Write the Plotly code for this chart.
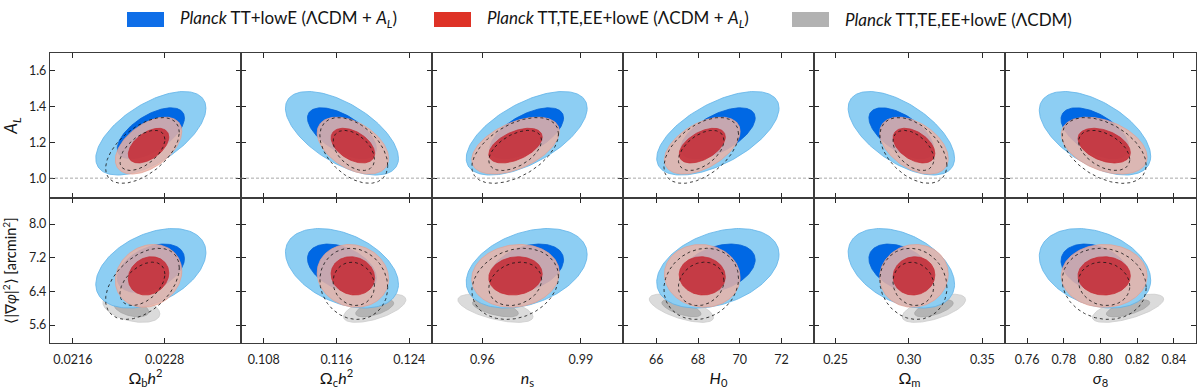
import numpy as np
import plotly.graph_objects as go
from plotly.subplots import make_subplots

# ---------------- data ----------------
param_titles = ["Ω<sub>b</sub><i>h</i><sup>2</sup>", "Ω<sub>c</sub><i>h</i><sup>2</sup>",
                "<i>n</i><sub>s</sub>", "<i>H</i><sub>0</sub>", "Ω<sub>m</sub>", "<i>σ</i><sub>8</sub>"]
x_ranges = [[0.02130, 0.02380], [0.1055, 0.1265], [0.9447, 1.0028],
            [64.4, 73.56], [0.2352, 0.3655], [0.748, 0.852]]
x_tickvals = [[0.0216, 0.0228], [0.108, 0.116, 0.124], [0.96, 0.99],
              [66, 68, 70, 72], [0.25, 0.30, 0.35], [0.76, 0.78, 0.80, 0.82, 0.84]]
x_ticktext = [["0.0216", "0.0228"], ["0.108", "0.116", "0.124"], ["0.96", "0.99"],
              ["66", "68", "70", "72"], ["0.25", "0.30", "0.35"],
              ["0.76", "0.78", "0.80", "0.82", "0.84"]]
y_titles = ["<i>A</i><sub><i>L</i></sub>", "⟨|∇<i>φ</i>|<sup>2</sup>⟩ [arcmin<sup>2</sup>]"]
y_ranges = [[0.889, 1.70], [5.175, 8.62]]
y_tickvals = [[1.0, 1.2, 1.4, 1.6], [5.6, 6.4, 7.2, 8.0]]
y_ticktext = [["1.0", "1.2", "1.4", "1.6"], ["5.6", "6.4", "7.2", "8.0"]]

legend_labels = ["<i>Planck</i> TT+lowE (ΛCDM + <i>A</i><sub><i>L</i></sub>)",
                 "<i>Planck</i> TT,TE,EE+lowE (ΛCDM + <i>A</i><sub><i>L</i></sub>)",
                 "<i>Planck</i> TT,TE,EE+lowE (ΛCDM)"]

# TT+lowE (LCDM + AL)
blue_mean = [0.02262, 0.1166, 0.9735, 68.95, 0.2948, 0.797]
blue_sigma = [0.00029, 0.0025, 0.0074, 1.18, 0.0146, 0.0122]
blue_AL = [1.251, 0.094]
blue_grad = [6.95, 0.38]
blue_rho_AL = [0.60, -0.60, 0.60, 0.60, -0.60, -0.55]
blue_rho_grad = [0.40, -0.40, 0.35, 0.35, -0.40, -0.30]

# TT,TE,EE+lowE (LCDM + AL)
red_mean = [0.02259, 0.1178, 0.9701, 68.2, 0.3034, 0.802]
red_sigma = [0.000175, 0.00158, 0.00536, 0.73, 0.0094, 0.0094]
red_AL = [1.182, 0.064]
red_grad = [6.77, 0.30]
red_rho_AL = [0.50, -0.45, 0.50, 0.50, -0.45, -0.40]
red_rho_grad = [0.15, -0.10, 0.10, -0.05, 0.05, 0.0]

# TT,TE,EE+lowE (LCDM)
gray_mean = [0.022365, 0.1202, 0.9640, 67.2, 0.317, 0.8150]
gray_sigma = [0.00015, 0.00138, 0.0046, 0.62, 0.0087, 0.0078]
gray_grad = [6.00, 0.135]
gray_rho_grad = [-0.40, 0.60, -0.60, -0.65, 0.60, 0.65]

# unlabelled dashed contours
dash_mean = [0.02251, 0.1179, 0.9700, 68.15, 0.303, 0.802]
dash_sigma = [0.000194, 0.0015, 0.0053, 0.72, 0.0092, 0.0092]
dash_AL = [1.155, 0.074]
dash_grad = [6.58, 0.34]
dash_rho_AL = [0.55, -0.45, 0.50, 0.50, -0.45, -0.45]
dash_rho_grad = [0.45, -0.10, 0.20, 0.15, -0.10, -0.10]

AL_ref = 1.0
chi2_levels = [6.18, 2.30]  # 95%, 68% in 2D

# ---------------- styles ----------------
FONT = "Lato"
blue_fill = ["rgb(141,206,243)", "rgb(0,104,228)"]
blue_line = ["rgb(95,178,232)", "rgb(0,96,215)"]
red_fill = ["rgba(233,179,167,0.85)", "rgba(196,40,50,0.85)"]
red_line = ["rgba(228,160,146,0.9)", "rgba(196,40,50,0.9)"]
gray_fill = ["rgba(215,215,215,0.9)", "rgba(175,175,175,0.9)"]
gray_line = ["rgba(200,200,200,0.9)", "rgba(165,165,165,0.9)"]


def ellipse(mx, sx, my, sy, rho, k, n=160):
    t = np.linspace(0, 2 * np.pi, n)
    u = np.sqrt(k) * np.cos(t)
    v = np.sqrt(k) * np.sin(t)
    x = mx + sx * u
    y = my + sy * (rho * u + np.sqrt(1 - rho ** 2) * v)
    return x, y


fig = make_subplots(rows=2, cols=6, horizontal_spacing=0, vertical_spacing=0)


def add_filled(row, col, mx, sx, my, sy, rho, fills, lines):
    for k, fc, lc in zip(chi2_levels, fills, lines):
        x, y = ellipse(mx, sx, my, sy, rho, k)
        fig.add_trace(go.Scatter(x=x, y=y, mode="lines", fill="toself", fillcolor=fc,
                                 line=dict(color=lc, width=0.8), hoverinfo="skip",
                                 showlegend=False), row=row, col=col)


def add_dashed(row, col, mx, sx, my, sy, rho):
    for k in chi2_levels:
        x, y = ellipse(mx, sx, my, sy, rho, k)
        fig.add_trace(go.Scatter(x=x, y=y, mode="lines",
                                 line=dict(color="rgba(20,20,20,0.9)", width=0.9, dash="dot"),
                                 hoverinfo="skip", showlegend=False), row=row, col=col)


for c in range(6):
    col = c + 1
    # top row: A_L
    add_filled(1, col, blue_mean[c], blue_sigma[c], blue_AL[0], blue_AL[1], blue_rho_AL[c], blue_fill, blue_line)
    add_filled(1, col, red_mean[c], red_sigma[c], red_AL[0], red_AL[1], red_rho_AL[c], red_fill, red_line)
    add_dashed(1, col, dash_mean[c], dash_sigma[c], dash_AL[0], dash_AL[1], dash_rho_AL[c])
    fig.add_hline(y=AL_ref, row=1, col=col, line=dict(color="rgb(130,130,130)", width=0.7, dash="3px,2px"))
    # bottom row: lensing gradient
    add_filled(2, col, gray_mean[c], gray_sigma[c], gray_grad[0], gray_grad[1], gray_rho_grad[c], gray_fill, gray_line)
    add_filled(2, col, blue_mean[c], blue_sigma[c], blue_grad[0], blue_grad[1], blue_rho_grad[c], blue_fill, blue_line)
    add_filled(2, col, red_mean[c], red_sigma[c], red_grad[0], red_grad[1], red_rho_grad[c], red_fill, red_line)
    add_dashed(2, col, dash_mean[c], dash_sigma[c], dash_grad[0], dash_grad[1], dash_rho_grad[c])

axis_common = dict(showline=True, linecolor="rgb(60,60,60)", linewidth=1.3, mirror="ticks",
                   ticks="inside", ticklen=5, tickwidth=1.2, tickcolor="rgb(40,40,40)",
                   showgrid=False, zeroline=False, automargin=False,
                   tickfont=dict(family=FONT, size=12.5, color="rgb(30,30,30)"))

for r in range(2):
    for c in range(6):
        fig.update_xaxes(range=x_ranges[c], tickmode="array", tickvals=x_tickvals[c],
                         ticktext=x_ticktext[c], showticklabels=(r == 1), ticklabelstandoff=5,
                         title=dict(text=param_titles[c] if r == 1 else "",
                                    font=dict(family=FONT, size=16, color="rgb(20,20,20)"), standoff=10),
                         row=r + 1, col=c + 1, **axis_common)
        fig.update_yaxes(range=y_ranges[r], tickmode="array", tickvals=y_tickvals[r],
                         ticktext=y_ticktext[r], showticklabels=(c == 0),
                         title=dict(text=y_titles[r] if c == 0 else "",
                                    font=dict(family=FONT, size=14.5 if r == 1 else 17, color="rgb(20,20,20)"),
                                    standoff=8),
                         row=r + 1, col=c + 1, **axis_common)

# legend drawn as boxes + labels in paper coordinates
legend_colors = ["rgb(14,110,232)", "rgb(222,50,38)", "rgb(178,178,178)"]
legend_box_px = [127, 434, 792]
W, H = 1200, 389
ml, mr, mt, mb = 50, 4, 53, 46
pw, ph = W - ml - mr, H - mt - mb


def px_to_paper_x(px):
    return (px - ml) / pw


def py_to_paper_y(py):
    return (H - mb - py) / ph


for i in range(3):
    x0 = legend_box_px[i]
    fig.add_shape(type="rect", xref="paper", yref="paper",
                  x0=px_to_paper_x(x0), x1=px_to_paper_x(x0 + 37),
                  y0=py_to_paper_y(27), y1=py_to_paper_y(12),
                  fillcolor=legend_colors[i], line=dict(width=0))
    fig.add_annotation(xref="paper", yref="paper", x=px_to_paper_x(x0 + 51), y=py_to_paper_y(19.5),
                       text=legend_labels[i], showarrow=False, xanchor="left", yanchor="middle",
                       font=dict(family=FONT, size=17, color="rgb(20,20,20)"))

fig.update_layout(width=W, height=H, margin=dict(l=ml, r=mr, t=mt, b=mb),
                  plot_bgcolor="white", paper_bgcolor="white", showlegend=False,
                  font=dict(family=FONT))

fig.write_html("out.html", config={"displayModeBar": False},
               post_script="document.body.style.margin='0';document.body.style.padding='0';")
